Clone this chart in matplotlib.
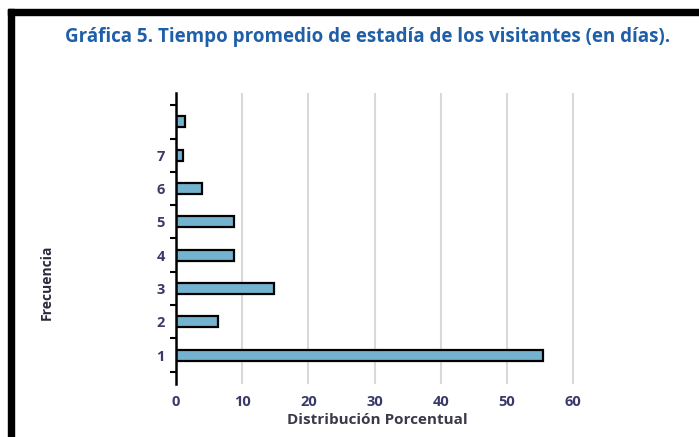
import numpy as np
import matplotlib.pyplot as plt
from matplotlib.patches import Rectangle

# Datos (porcentaje por número de días)
dias = [1, 2, 3, 4, 5, 6, 7, 8]
etiquetas = ["1", "2", "3", "4", "5", "6", "7", ""]
porcentaje = [55.5, 6.4, 14.8, 8.8, 8.8, 3.9, 1.1, 1.4]
xticks = [0, 10, 20, 30, 40, 50, 60]

W, H = 699, 437
fig = plt.figure(figsize=(W / 100, H / 100), dpi=100)
plt.rcParams['font.family'] = ['Open Sans', 'DejaVu Sans']

# marco negro (izquierda y arriba)
fig.patches.append(Rectangle((8 / W, 0), 6 / W, 1 - 9 / H, transform=fig.transFigure,
                             color="black", zorder=0))
fig.patches.append(Rectangle((8 / W, 1 - 15 / H), 1 - 8 / W, 6 / H, transform=fig.transFigure,
                             color="black", zorder=0))

ax = fig.add_axes([176 / W, 1 - 384 / H, (573 - 176) / W * 61 / 60, (384 - 93) / H])

ax.barh(dias, porcentaje, height=0.33, color="#74b3d0", edgecolor="black", linewidth=1.6, zorder=3)

ax.set_xlim(0, 61)
ax.set_ylim(0.13, 8.87)
ax.set_xticks(xticks)
ax.set_xticklabels([str(v) for v in xticks], fontsize=10.5, fontweight="bold", color="#3a3a6a")
ax.set_yticks(dias)
ax.set_yticklabels(etiquetas, fontsize=10.5, fontweight="bold", color="#3a3a6a")
ax.set_yticks(np.arange(0.5, 9, 1), minor=True)
ax.tick_params(axis="y", which="major", length=0, pad=8)
ax.tick_params(axis="y", which="minor", length=4, width=1.5, direction="out")
ax.tick_params(axis="x", length=0, pad=8)

ax.grid(axis="x", color="#d9d9d9", linewidth=1.5, zorder=0)
for s in ["top", "right", "bottom"]:
    ax.spines[s].set_visible(False)
ax.spines["left"].set_linewidth(1.8)
ax.spines["left"].set_zorder(4)

ax.set_xlabel("Distribución Porcentual", fontsize=11, fontweight="bold", color="#3a3a4a", labelpad=3)
fig.text(47 / W, 1 - 282 / H, "Frecuencia", rotation=90, fontsize=10, fontweight="bold",
         color="#2a2a3a", ha="center", va="center")

fig.text(368 / W, 1 - 37 / H, "Gráfica 5. Tiempo promedio de estadía de los visitantes (en días).",
         fontsize=13.5, fontweight="bold", color="#1f5fa8", ha="center", va="center")

fig.savefig("out.png", dpi=100)
